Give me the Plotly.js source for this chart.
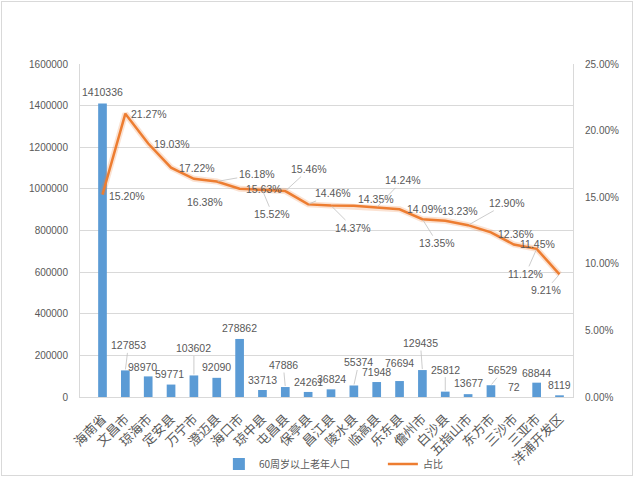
<!DOCTYPE html>
<html>
<head>
<meta charset="utf-8">
<script src="https://cdn.plot.ly/plotly-3.0.1.min.js"></script>
<style>
html,body{margin:0;padding:0;background:#fff;}
#wrap{position:relative;width:640px;height:477px;}
#chart{width:640px;height:477px;}
#frame{position:absolute;left:1px;top:1px;width:632px;height:475px;border:1px solid #d9d9d9;box-sizing:border-box;pointer-events:none;}
</style>
</head>
<body>
<div id="wrap"><div id="chart"></div><div id="frame"></div></div>
<script>
var categories = ['海南省','文昌市','琼海市','定安县','万宁市','澄迈县','海口市','琼中县','屯昌县','保亭县','昌江县','陵水县','临高县','乐东县','儋州市','白沙县','五指山市','东方市','三沙市','三亚市','洋浦开发区'];
var elderly = [1410336,127853,98970,59771,103602,92090,278862,33713,47886,24261,36824,55374,71948,76694,129435,25812,13677,56529,72,68844,8119];
var share = [15.20,21.27,19.03,17.22,16.38,16.18,15.63,15.52,15.46,14.46,14.37,14.35,14.24,14.09,13.35,13.23,12.90,12.36,11.45,11.12,9.21];
var seriesNames = ['60周岁以上老年人口','占比'];

// label offsets (pixels) and whether a leader line is drawn
var barLabelOff = [[0,-11,0],[3,-25,1],[-6,-9,0],[-2,-11,0],[0,-27,1],[0,-11,0],[0,-11,0],[0,-10,0],[-2,-22,1],[0,-10,0],[0,-10,0],[5,-23,1],[0,-10,0],[0,-18,0],[-2,-27,1],[0,-22,1],[0,-11,0],[12,-15,1],[0,-10,0],[0,-10,0],[0,-10,0]];
var lineLabelOff = [[24,1,0],[24,0,0],[24,0,0],[26,0,0],[11,23,1],[40,-7,1],[24,0,0],[10,24,1],[24,-22,1],[25,-11,1],[22,22,1],[22,-7,0],[26,-27,1],[25,0,0],[15,24,1],[15,-10,0],[39,-22,1],[25,2,0],[24,0,0],[-11,25,1],[-14,16,1]];

var labelFont = {family:'Liberation Sans, Arial, sans-serif', size:10.5, color:'#595959'};
var annotations = [];
for (var i=0;i<categories.length;i++){
  annotations.push({x:categories[i], y:elderly[i], xref:'x', yref:'y', text:String(elderly[i]),
    showarrow:true, arrowhead:0, arrowwidth:0.8, standoff:1,
    arrowcolor: barLabelOff[i][2] ? '#bfbfbf' : 'rgba(0,0,0,0)',
    ax:barLabelOff[i][0], ay:barLabelOff[i][1], font:labelFont});
  annotations.push({x:categories[i], y:share[i], xref:'x', yref:'y2', text:share[i].toFixed(2)+'%',
    showarrow:true, arrowhead:0, arrowwidth:0.8, standoff:1,
    arrowcolor: lineLabelOff[i][2] ? '#bfbfbf' : 'rgba(0,0,0,0)',
    ax:lineLabelOff[i][0], ay:lineLabelOff[i][1], font:labelFont});
}

var traces = [
  {type:'bar', x:categories, y:elderly, name:seriesNames[0], marker:{color:'#5B9BD5'}, yaxis:'y'},
  {type:'scatter', mode:'lines', x:categories, y:share, yaxis:'y2', showlegend:false, hoverinfo:'skip',
   line:{color:'rgba(237,125,49,0.22)', width:6}},
  {type:'scatter', mode:'lines', x:categories, y:share, name:seriesNames[1], yaxis:'y2',
   line:{color:'#ED7D31', width:2.5}}
];

var tickFont = {family:'Liberation Sans, Arial, sans-serif', size:10, color:'#595959'};
var layout = {
  width:640, height:477,
  margin:{l:80, r:67, t:64, b:80, pad:0, autoexpand:false},
  paper_bgcolor:'#fff', plot_bgcolor:'#fff',
  bargap:0.62,
  showlegend:true,
  legend:{orientation:'h', xref:'container', yref:'container', x:0.342, xanchor:'left', y:0.027, yanchor:'middle', entrywidth:119,
    font:{family:'Noto Sans CJK SC, sans-serif', size:10, color:'#595959'}, itemwidth:30, bgcolor:'rgba(0,0,0,0)'},
  xaxis:{type:'category', tickangle:-45, ticks:'', showgrid:false, showline:true, linecolor:'#d9d9d9', linewidth:1, automargin:false,
    tickfont:{family:'Noto Sans CJK SC, sans-serif', size:13, color:'#595959'}, ticklabelstandoff:8, fixedrange:true},
  yaxis:{range:[0,1600000], dtick:200000, tickformat:'d', showgrid:true, gridcolor:'#d9d9d9', gridwidth:1, automargin:false,
    zeroline:false, showline:true, linecolor:'#d9d9d9', ticks:'', tickfont:tickFont, ticklabelstandoff:9},
  yaxis2:{overlaying:'y', side:'right', range:[0,25], dtick:5, tickformat:'.2f', ticksuffix:'%', showgrid:false, automargin:false,
    zeroline:false, showline:true, linecolor:'#d9d9d9', ticks:'', tickfont:tickFont, ticklabelstandoff:9},
  annotations:annotations
};
Plotly.newPlot('chart', traces, layout, {displayModeBar:false, staticPlot:true});
</script>
</body>
</html>
